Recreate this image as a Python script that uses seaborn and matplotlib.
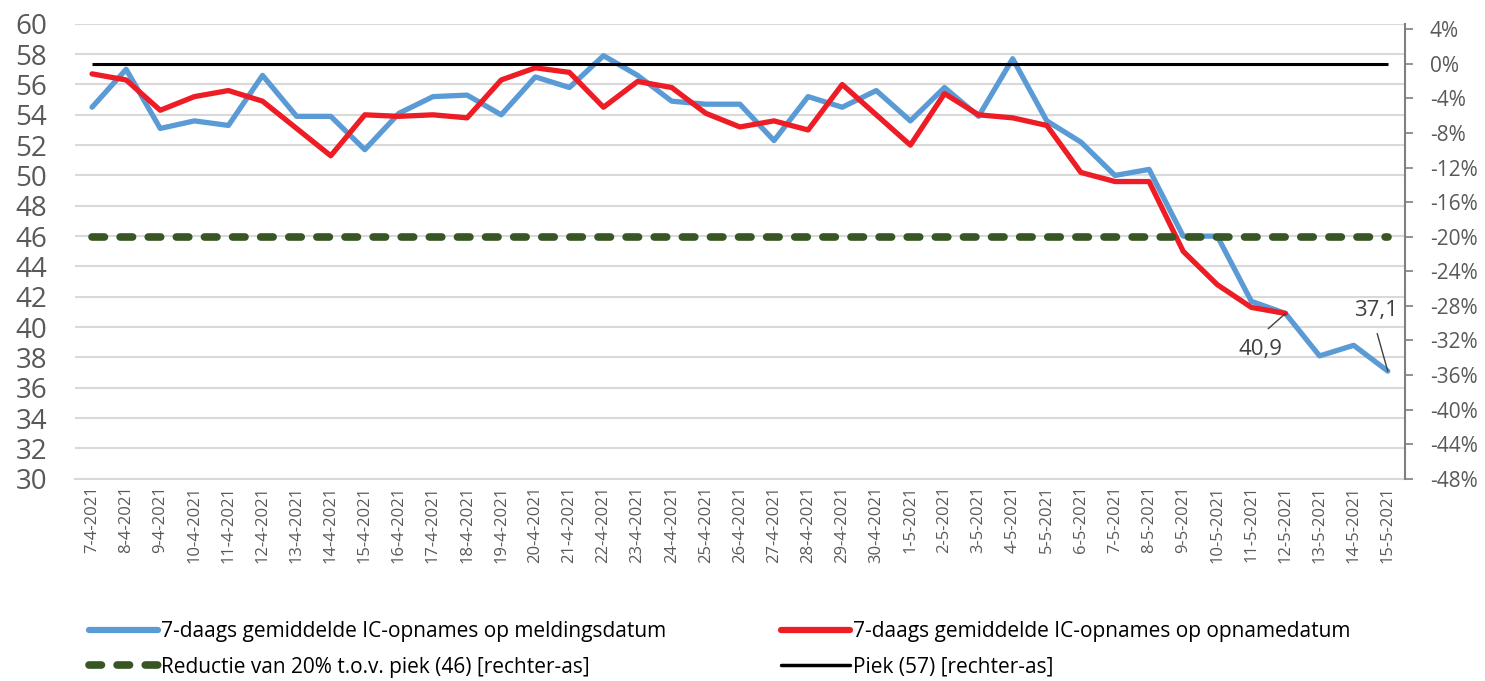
import matplotlib
matplotlib.use("Agg")
import matplotlib.pyplot as plt
from matplotlib.lines import Line2D
from matplotlib.ticker import FuncFormatter
import numpy as np
import pandas as pd
import seaborn as sns

dates = [
    "7-4-2021", "8-4-2021", "9-4-2021", "10-4-2021", "11-4-2021", "12-4-2021",
    "13-4-2021", "14-4-2021", "15-4-2021", "16-4-2021", "17-4-2021", "18-4-2021",
    "19-4-2021", "20-4-2021", "21-4-2021", "22-4-2021", "23-4-2021", "24-4-2021",
    "25-4-2021", "26-4-2021", "27-4-2021", "28-4-2021", "29-4-2021", "30-4-2021",
    "1-5-2021", "2-5-2021", "3-5-2021", "4-5-2021", "5-5-2021", "6-5-2021",
    "7-5-2021", "8-5-2021", "9-5-2021", "10-5-2021", "11-5-2021", "12-5-2021",
    "13-5-2021", "14-5-2021", "15-5-2021",
]
melding = [
    54.5, 57.0, 53.1, 53.6, 53.3, 56.6, 53.9, 53.9, 51.7, 54.1, 55.2, 55.3,
    54.0, 56.5, 55.8, 57.9, 56.6, 54.9, 54.7, 54.7, 52.3, 55.2, 54.5, 55.6,
    53.6, 55.8, 53.9, 57.7, 53.6, 52.2, 50.0, 50.4, 46.0, 46.0, 41.7, 40.9,
    38.1, 38.8, 37.1,
]
opname = [
    56.7, 56.3, 54.3, 55.2, 55.6, 54.9, 53.1, 51.3, 54.0, 53.9, 54.0, 53.8,
    56.3, 57.1, 56.8, 54.5, 56.2, 55.8, 54.1, 53.2, 53.6, 53.0, 56.0, 54.0,
    52.0, 55.4, 54.0, 53.8, 53.3, 50.2, 49.6, 49.6, 45.0, 42.8, 41.3, 40.9,
]
piek_pct = 0.0
reductie_pct = -0.20

label_blue = "7-daags gemiddelde IC-opnames op meldingsdatum"
label_red = "7-daags gemiddelde IC-opnames op opnamedatum"
label_green = "Reductie van 20% t.o.v. piek (46) [rechter-as]"
label_black = "Piek (57) [rechter-as]"

blue = "#5B9BD5"
red = "#EE1C25"
green = "#375623"
grey_txt = "#595959"

sns.set_style("white")
plt.rcParams["font.family"] = ["Open Sans", "DejaVu Sans"]
plt.rcParams["axes.unicode_minus"] = False

x = np.arange(len(dates))
df_blue = pd.DataFrame({"x": x, "v": melding})
df_red = pd.DataFrame({"x": x[: len(opname)], "v": opname})

fig = plt.figure(figsize=(14.85, 6.81), dpi=100)
ax = fig.add_axes([0.0505, 0.297, 0.8955, 0.668])
ax2 = ax.twinx()

sns.lineplot(data=df_blue, x="x", y="v", ax=ax, color=blue, lw=3.8)
sns.lineplot(data=df_red, x="x", y="v", ax=ax, color=red, lw=3.8)

ax.set_ylim(30, 60)
ax.set_yticks(np.arange(30, 61, 2))
ax.set_xlim(-0.5, len(dates) - 0.5)
ax.set_xticks(x)
ax.set_xticklabels(dates, rotation=90, fontsize=12, color=grey_txt)
ax.set_xticks(np.arange(-0.5, len(dates), 1), minor=True)
ax.tick_params(axis="x", which="major", length=0, pad=5)
ax.tick_params(axis="x", which="minor", length=6, color="#D9D9D9", width=1)
ax.tick_params(axis="y", labelsize=20, labelcolor=grey_txt, length=0, pad=20)
ax.set_xlabel("")
ax.set_ylabel("")
ax.set_axisbelow(True)
ax.grid(axis="y", color="#D9D9D9", lw=1.5)
for s in ["top", "left", "right"]:
    ax.spines[s].set_visible(False)
ax.spines["bottom"].set_color("#D9D9D9")
ax.spines["bottom"].set_linewidth(1.5)

# right-axis reference lines, drawn above the grid
ax2.plot(x, [piek_pct] * len(x), color="black", lw=2.2, solid_capstyle="butt")
ax2.plot(x, [reductie_pct] * len(x), color=green, lw=5.5, dashes=(1.63, 2.05),
         dash_capstyle="round")
ax2.set_ylim(-0.48, 0.0463)
ax2.set_yticks(np.arange(-0.48, 0.041, 0.04))
ax2.yaxis.set_major_formatter(
    FuncFormatter(lambda v, pos: f"{int(round(v * 100))}%"))
ax2.tick_params(axis="y", labelsize=15, labelcolor=grey_txt, length=6,
                color="#7F7F7F", width=1.2, pad=12)
ax2.grid(False)
for s in ["top", "left", "bottom"]:
    ax2.spines[s].set_visible(False)
ax2.spines["right"].set_color("#7F7F7F")
ax2.spines["right"].set_linewidth(1.5)

# data labels
ax.annotate("40,9", xy=(35, opname[35]), xytext=(34.27, 38.5),
            fontsize=16, color="#404040", ha="center", va="center",
            arrowprops=dict(arrowstyle="-", color="#404040", lw=1,
                            relpos=(0.4, 1.0), shrinkA=8, shrinkB=0))
ax.annotate("37,1", xy=(38, melding[38]), xytext=(37.65, 41.1),
            fontsize=16, color="#404040", ha="center", va="center",
            arrowprops=dict(arrowstyle="-", color="#404040", lw=1,
                            relpos=(0.45, 0.0), shrinkA=7, shrinkB=0))

h_blue = Line2D([], [], color=blue, lw=4.5)
h_red = Line2D([], [], color=red, lw=4.5)
h_green = Line2D([], [], color=green, lw=5.5, dashes=(1.63, 2.05),
                 dash_capstyle="round")
h_black = Line2D([], [], color="black", lw=2.5)

leg_kw = dict(frameon=False, fontsize=15, handlelength=3.3,
              handletextpad=0.15, labelspacing=0.7, labelcolor="black",
              borderaxespad=0, borderpad=0)
fig.legend([h_blue, h_green], [label_blue, label_green],
           loc="upper left", bbox_to_anchor=(0.06, 0.088), **leg_kw)
fig.legend([h_red, h_black], [label_red, label_black],
           loc="upper left", bbox_to_anchor=(0.526, 0.088), **leg_kw)

fig.savefig("out.png", dpi=100)
